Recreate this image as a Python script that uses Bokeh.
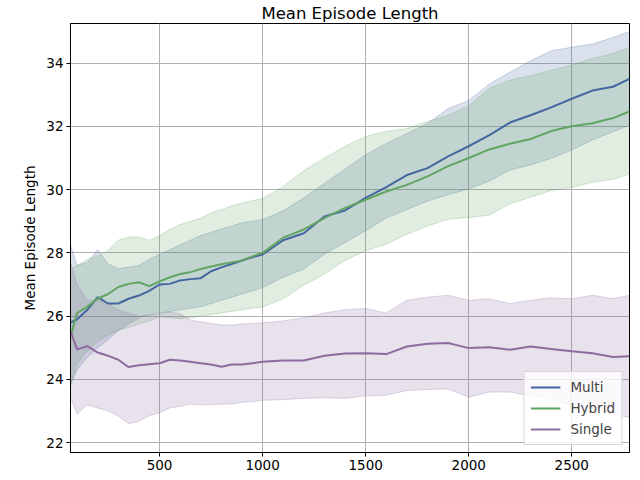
from bokeh.plotting import figure
from bokeh.models import FixedTicker, Range1d
from bokeh.embed import file_html
from bokeh.resources import INLINE

# ---- data ----
steps = [70, 100, 150, 200, 250, 300, 350, 400, 450, 500, 550, 600, 650, 700, 750,
         800, 850, 900, 950, 1000, 1100, 1200, 1300, 1400, 1500, 1600, 1700, 1800,
         1900, 2000, 2100, 2200, 2300, 2400, 2500, 2600, 2700, 2780]

multi_mean = [25.8, 25.9, 26.2, 26.6, 26.4, 26.4, 26.55, 26.65, 26.8, 27.0, 27.02, 27.13,
              27.17, 27.2, 27.42, 27.54, 27.65, 27.76, 27.86, 27.95, 28.4, 28.62, 29.15,
              29.34, 29.74, 30.08, 30.46, 30.68, 31.05, 31.37, 31.72, 32.12, 32.35, 32.6,
              32.87, 33.13, 33.25, 33.5]
multi_upper = [28.2, 27.6, 27.7, 28.1, 27.65, 27.5, 27.55, 27.6, 27.8, 27.95, 28.1, 28.25,
               28.4, 28.55, 28.65, 28.75, 28.85, 28.95, 29.0, 29.05, 29.33, 29.74, 30.2,
               30.65, 31.1, 31.46, 31.77, 32.09, 32.56, 32.82, 33.34, 33.71, 34.07, 34.39,
               34.5, 34.6, 34.81, 35.0]
multi_lower = [23.9, 24.3, 24.7, 25.0, 25.25, 25.55, 25.75, 25.95, 26.05, 26.1, 26.15, 26.2,
               26.25, 26.3, 26.4, 26.5, 26.6, 26.7, 26.8, 26.9, 27.23, 27.49, 27.96, 28.33,
               28.7, 29.1, 29.37, 29.64, 29.84, 30.02, 30.27, 30.62, 30.78, 30.99, 31.25,
               31.57, 31.83, 32.03]

hybrid_mean = [25.4, 26.1, 26.3, 26.55, 26.7, 26.92, 27.02, 27.07, 26.95, 27.1, 27.23, 27.33,
               27.39, 27.49, 27.57, 27.64, 27.7, 27.76, 27.89, 28.0, 28.48, 28.74, 29.1,
               29.42, 29.68, 29.94, 30.15, 30.42, 30.74, 31.0, 31.27, 31.45, 31.6, 31.85,
               32.0, 32.1, 32.26, 32.47]
hybrid_upper = [27.5, 27.6, 27.8, 27.9, 28.07, 28.4, 28.5, 28.5, 28.4, 28.54, 28.74, 28.9,
                29.0, 29.1, 29.27, 29.37, 29.48, 29.58, 29.65, 29.72, 30.1, 30.6, 31.0,
                31.37, 31.68, 31.84, 31.93, 32.15, 32.35, 32.65, 33.2, 33.46, 33.6, 33.77,
                33.93, 34.14, 34.3, 34.5]
hybrid_lower = [23.8, 24.5, 24.9, 25.2, 25.4, 25.55, 25.65, 25.75, 25.85, 25.98, 25.95, 25.92,
                25.95, 26.0, 26.05, 26.1, 26.15, 26.2, 26.25, 26.29, 26.55, 26.98, 27.33,
                27.76, 28.07, 28.27, 28.59, 28.85, 29.06, 29.12, 29.19, 29.55, 29.76, 29.97,
                30.07, 30.23, 30.33, 30.49]

single_mean = [25.5, 24.95, 25.05, 24.85, 24.75, 24.62, 24.39, 24.45, 24.48, 24.51, 24.62, 24.6,
               24.56, 24.51, 24.47, 24.4, 24.47, 24.47, 24.51, 24.56, 24.6, 24.6, 24.75,
               24.82, 24.83, 24.8, 25.04, 25.13, 25.15, 24.99, 25.02, 24.94, 25.04, 24.96,
               24.89, 24.83, 24.71, 24.73]
single_upper = [27.65, 27.0, 26.5, 26.5, 26.4, 26.2, 26.1, 26.0, 26.03, 26.07, 26.13, 26.07,
                25.88, 25.82, 25.77, 25.72, 25.72, 25.75, 25.77, 25.79, 25.85, 25.95, 26.1,
                26.2, 26.24, 26.1, 26.5, 26.6, 26.66, 26.5, 26.55, 26.4, 26.5, 26.58, 26.55,
                26.66, 26.55, 26.66]
single_lower = [23.4, 22.9, 23.2, 23.1, 23.0, 22.84, 22.6, 22.68, 22.85, 22.95, 23.1, 23.15,
                23.22, 23.2, 23.2, 23.22, 23.22, 23.28, 23.3, 23.34, 23.36, 23.4, 23.42,
                23.4, 23.48, 23.5, 23.65, 23.68, 23.7, 23.44, 23.6, 23.6, 23.48, 23.37, 23.2,
                23.06, 22.9, 22.8]

x_ticks = [500, 1000, 1500, 2000, 2500]
y_ticks = [22, 24, 26, 28, 30, 32, 34]

series = [
    ("Multi", multi_mean, multi_upper, multi_lower, "#4466a0"),
    ("Hybrid", hybrid_mean, hybrid_upper, hybrid_lower, "#62a462"),
    ("Single", single_mean, single_upper, single_lower, "#8c6c9e"),
]

FONT = "DejaVu Sans"

p = figure(width=632, height=472, output_backend="svg", toolbar_location=None,
           x_range=Range1d(68, 2780), y_range=Range1d(21.69, 35.25),
           title="Mean Episode Length",
           min_border_left=70, min_border_right=3, min_border_top=0, min_border_bottom=0)

p.title.align = "center"
p.title.text_font = FONT
p.title.text_font_size = "16.5px"
p.title.text_font_style = "normal"
p.title.text_color = "black"
p.title.standoff = 2
p.title.offset = 0

for name, m, u, l, c in series:
    p.varea(x=steps, y1=l, y2=u, fill_color=c, fill_alpha=0.2)
    p.line(steps, u, line_color=c, line_alpha=0.25, line_width=1)
    p.line(steps, l, line_color=c, line_alpha=0.25, line_width=1)

for name, m, u, l, c in series:
    p.line(steps, m, line_color=c, line_width=2, legend_label=name)

p.xaxis.ticker = FixedTicker(ticks=x_ticks)
p.yaxis.ticker = FixedTicker(ticks=y_ticks)
p.yaxis.axis_label = "Mean Episode Length"

for ax in (p.xaxis, p.yaxis):
    ax.major_label_text_font = FONT
    ax.major_label_text_font_size = "13.5px"
    ax.major_label_text_color = "black"
    ax.axis_line_color = "black"
    ax.major_tick_line_color = "black"
    ax.major_tick_out = 4
    ax.major_tick_in = 0
    ax.minor_tick_line_color = None
    ax.major_label_standoff = 3
    ax.axis_label_text_font = FONT
    ax.axis_label_text_font_size = "13.5px"
    ax.axis_label_text_font_style = "normal"
    ax.axis_label_text_color = "black"
    ax.axis_label_standoff = 5

p.outline_line_color = "black"
p.outline_line_alpha = 1
p.outline_line_width = 1

p.grid.grid_line_color = "#b0b0b0"
p.grid.grid_line_width = 1
p.grid.grid_line_alpha = 1

p.legend.location = "bottom_right"
p.legend.label_text_font = FONT
p.legend.label_text_font_size = "13.5px"
p.legend.glyph_width = 30
p.legend.glyph_height = 18
p.legend.label_height = 18
p.legend.spacing = 3
p.legend.padding = 6
p.legend.margin = 7
p.legend.label_standoff = 10
p.legend.border_line_color = "#cccccc"
p.legend.border_line_alpha = 0.8
p.legend.background_fill_alpha = 0.8

open("out.html", "w").write(file_html(p, INLINE))
